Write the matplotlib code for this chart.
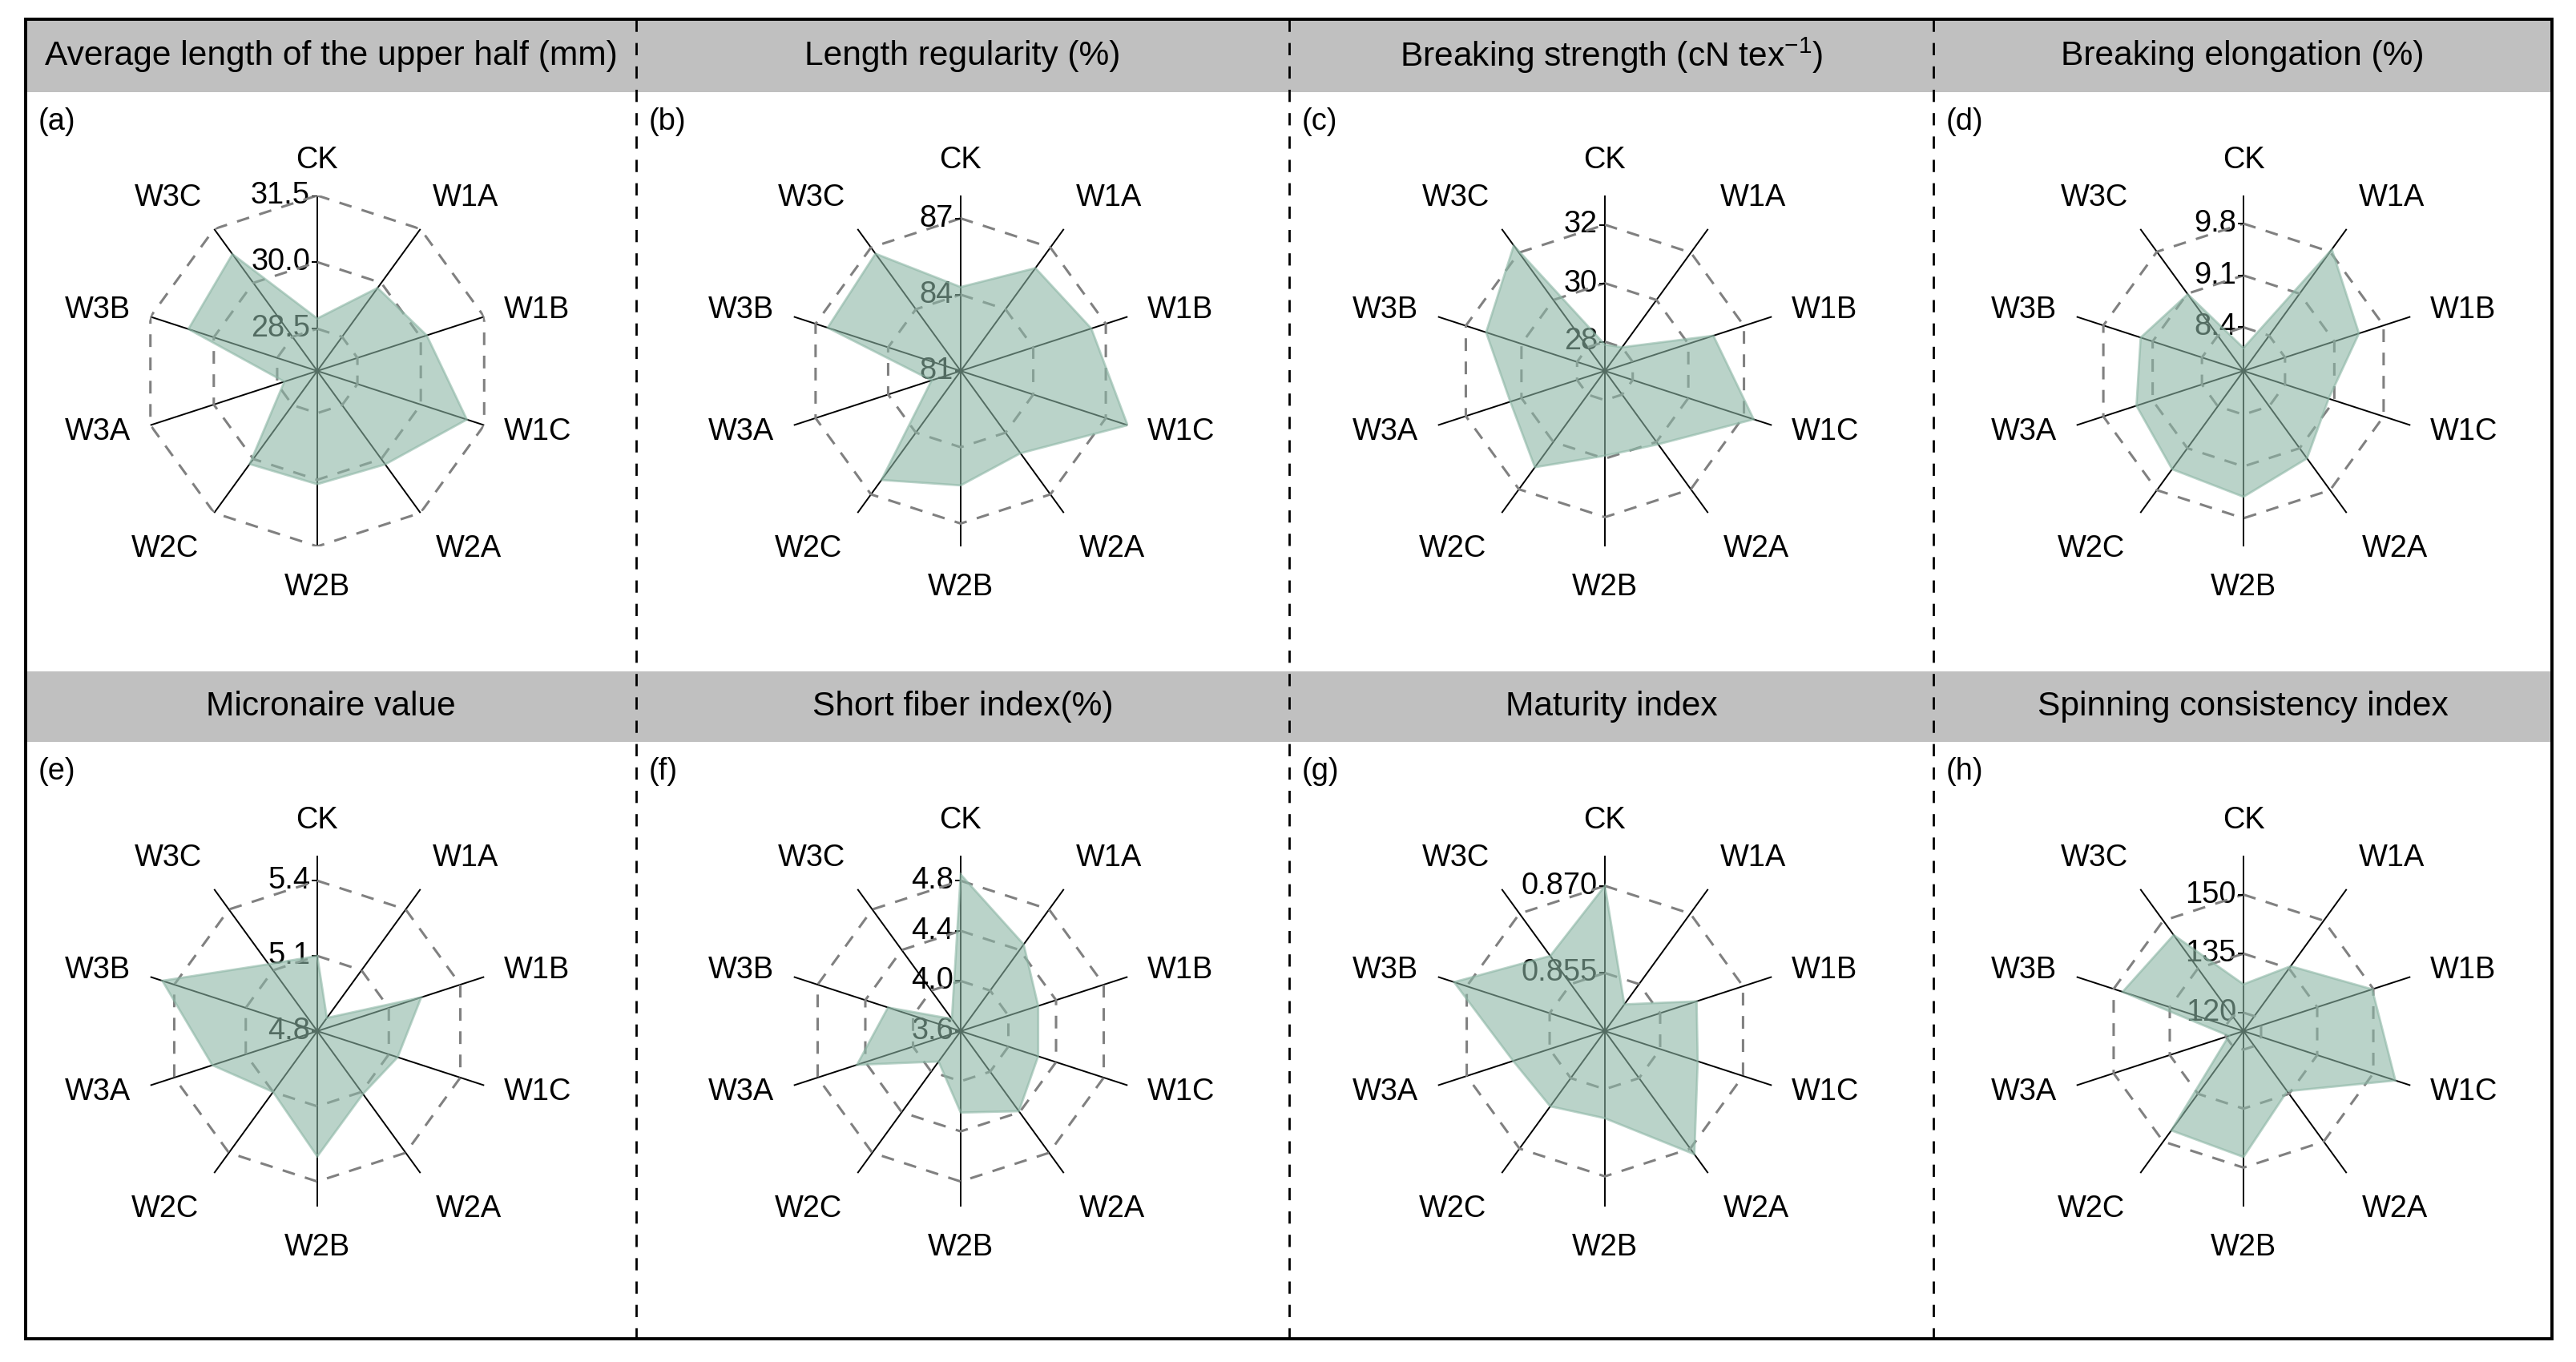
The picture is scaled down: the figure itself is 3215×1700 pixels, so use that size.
import numpy as np
import matplotlib
matplotlib.use("Agg")
from matplotlib import pyplot as plt
from matplotlib.patches import Rectangle
from matplotlib.lines import Line2D
from matplotlib.markers import TICKLEFT

plt.rcParams['font.family'] = ['Liberation Sans', 'DejaVu Sans']
plt.rcParams['mathtext.fontset'] = 'custom'
plt.rcParams['mathtext.rm'] = 'Liberation Sans'
plt.rcParams['mathtext.it'] = 'Liberation Sans:italic'

# treatments, clockwise from the top
categories = ['CK', 'W1A', 'W1B', 'W1C', 'W2A', 'W2B', 'W2C', 'W3A', 'W3B', 'W3C']

titles = ['Average length of the upper half (mm)', 'Length regularity (%)',
          'Breaking strength (cN tex$^{-1}$)', 'Breaking elongation (%)',
          'Micronaire value', 'Short fiber index(%)', 'Maturity index',
          'Spinning consistency index']
letters = ['(a)', '(b)', '(c)', '(d)', '(e)', '(f)', '(g)', '(h)']

# values
upper_half_length = [28.73, 29.86, 30.14, 31.09, 30.15, 30.1, 30.14, 28.33, 30.6, 30.8]
length_regularity = [84.3, 86.0, 86.4, 87.9, 85.0, 85.5, 86.3, 82.2, 86.5, 86.7]
breaking_strength = [27.9, 28.0, 30.9, 32.35, 30.1, 29.9, 31.07, 30.4, 31.27, 32.3]
breaking_elongation = [8.12, 9.84, 9.45, 9.02, 9.27, 9.51, 9.45, 9.33, 9.27, 9.09]
micronaire = [5.10, 4.865, 5.236, 5.137, 5.11, 5.30, 5.10, 5.24, 5.45, 5.13]
short_fiber_index = [4.85, 4.455, 4.25, 4.25, 4.39, 4.25, 3.90, 4.47, 4.21, 3.72]
maturity_index = [0.870, 0.8507, 0.8616, 0.8618, 0.8712, 0.860, 0.861, 0.8616, 0.8723, 0.861]
spinning_index = [127.2, 135.7, 149.7, 155.9, 134.2, 147.3, 146.5, 119.2, 147.6, 145.5]

series = [upper_half_length, length_regularity, breaking_strength, breaking_elongation,
          micronaire, short_fiber_index, maturity_index, spinning_index]

# radial axis: centre value, end of spokes, rings
r_min = [27.55, 81.0, 27.0, 7.81, 4.8, 3.6, 0.845, 115.3]
r_max = [31.5, 87.9, 33.0, 10.18, 5.5, 5.0, 0.8752, 159.9]
ticks = [[28.5, 30.0, 31.5], [81, 84, 87], [28, 30, 32], [8.4, 9.1, 9.8],
         [4.8, 5.1, 5.4], [3.6, 4.0, 4.4, 4.8], [0.855, 0.870], [120, 135, 150]]
tick_labels = [['28.5', '30.0', '31.5'], ['81', '84', '87'], ['28', '30', '32'],
               ['8.4', '9.1', '9.8'], ['4.8', '5.1', '5.4'], ['3.6', '4.0', '4.4', '4.8'],
               ['0.855', '0.870'], ['120', '135', '150']]

W, H = 3215, 1700
fig = plt.figure(figsize=(W / 100, H / 100), dpi=100)

def fx(px):
    return px / W

def fy(py):
    return 1 - py / H

# layout in pixels (from the top left)
frame = (32, 24, 3185, 1671)
headers = [(24, 115), (838, 926)]
seps = [794, 1609, 2413]
col_edges = [frame[0]] + seps + [frame[2]]
radar_cx = [396, 1199, 2003, 2800]
radar_cy = [463, 1287]
R = 219
fill_color = '#8cb6a5'
fs = 27.4

for top, bot in headers:
    fig.patches.append(Rectangle((fx(frame[0]), fy(bot)), fx(frame[2] - frame[0]), (bot - top) / H,
                                 transform=fig.transFigure, facecolor='#c0c0c0', edgecolor='none', zorder=0))

for x in seps:
    fig.lines.append(Line2D([fx(x), fx(x)], [fy(frame[1]), fy(frame[3])], transform=fig.transFigure,
                            color='black', lw=2.0, ls=(0, (5.5, 5)), zorder=2))

fig.patches.append(Rectangle((fx(frame[0]), fy(frame[3])), fx(frame[2] - frame[0]), (frame[3] - frame[1]) / H,
                             transform=fig.transFigure, facecolor='none', edgecolor='black', lw=2.8, zorder=3))

theta = np.arange(len(categories)) * 2 * np.pi / len(categories)
theta_closed = np.append(theta, theta[0])

for i in range(8):
    row, col = divmod(i, 4)
    cx, cy = radar_cx[col], radar_cy[row]
    top, bot = headers[row]

    fig.text(fx((col_edges[col] + col_edges[col + 1]) / 2), fy((top + bot) / 2), titles[i],
             ha='center', va='center', fontsize=30.6)
    fig.text(fx(col_edges[col] + 16), fy(bot + 37), letters[i], ha='left', va='center', fontsize=fs)

    ax = fig.add_axes([fx(cx - R), fy(cy + R), 2 * R / W, 2 * R / H], projection='polar')
    ax.set_theta_zero_location('N')
    ax.set_theta_direction(-1)
    ax.set_ylim(r_min[i], r_max[i])
    ax.grid(False)
    ax.set_xticks([])
    ax.set_yticks([])
    ax.spines['polar'].set_visible(False)
    ax.patch.set_alpha(0)

    lo, hi = r_min[i], r_max[i]

    # spokes
    for t in theta:
        ax.plot([t, t], [lo, hi], color='black', lw=1.4, zorder=2)

    # dashed rings at the tick values
    for tv in ticks[i]:
        if tv - lo > 0.02 * (hi - lo):
            ax.plot(theta_closed, [tv] * len(theta_closed), color='#808080', lw=2.2,
                    ls=(0, (5.2, 4.3)), zorder=2)

    # tick labels along the CK spoke
    ax.plot([0] * len(ticks[i]), ticks[i], ls='none', marker=TICKLEFT, ms=5, mew=1.4,
            color='black', zorder=2)
    for tv, tl in zip(ticks[i], tick_labels[i]):
        ax.annotate(tl, xy=(0, tv), xytext=(-6.5, 0), textcoords='offset points',
                    ha='right', va='center', fontsize=fs, zorder=1)

    # treatment names, anchored just past the spoke ends
    for t, name in zip(theta, categories):
        s, c = np.sin(t), np.cos(t)
        ha = 'left' if s > 0.01 else ('right' if s < -0.01 else 'center')
        va = 'bottom' if c > 0.5 else ('top' if c < -0.5 else 'center')
        k = 1.15 if va == 'top' else 1.12
        ax.text(t, lo + k * (hi - lo), name, ha=ha, va=va, fontsize=fs, clip_on=False)

    vals = np.append(series[i], series[i][0])
    ax.fill(theta_closed, vals, facecolor=fill_color, edgecolor=fill_color, lw=2, alpha=0.6, zorder=10)

fig.savefig('out.png', dpi=100)
